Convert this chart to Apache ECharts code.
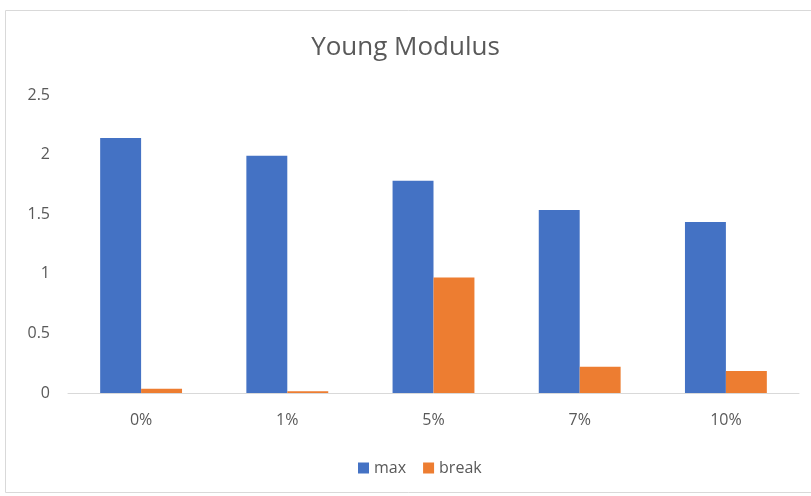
<!DOCTYPE html>
<html><head><meta charset="utf-8">
<script src="https://cdn.jsdelivr.net/npm/echarts@6/dist/echarts.min.js"></script>
<style>html,body{margin:0;padding:0;background:#fff}#c{width:811px;height:496px}</style>
</head><body><div id="c"></div>
<script>
const categories = ['0%', '1%', '5%', '7%', '10%'];
const maxValues = [2.14, 1.99, 1.78, 1.535, 1.435];
const breakValues = [0.035, 0.015, 0.97, 0.22, 0.185];
const yTicks = [0, 0.5, 1, 1.5, 2, 2.5];

const chart = echarts.init(document.getElementById('c'));
chart.setOption({
  animation: false,
  graphic: [{type:'rect', shape:{x:5.5,y:10.5,width:810,height:482}, style:{fill:'none', stroke:'#d9d9d9', lineWidth:1}}],
  title: {text:'Young Modulus', left:'center', top:30, textStyle:{fontFamily:'Open Sans', fontSize:26, fontWeight:'normal', color:'#595959'}},
  legend: {data:['max','break'], top:455, left:353, itemWidth:11, itemHeight:11, itemGap:17, icon:'rect',
    textStyle:{fontFamily:'Open Sans', fontSize:16, color:'#595959'}},
  grid: {left:68, right:12, top:95, bottom:103, containLabel:false},
  xAxis: {type:'category', data:categories, axisTick:{show:false},
    axisLine:{lineStyle:{color:'#d9d9d9'}},
    axisLabel:{fontFamily:'Open Sans', fontSize:16, color:'#595959', margin:19}},
  yAxis: {type:'value', min:yTicks[0], max:yTicks[yTicks.length-1], interval:0.5,
    splitLine:{show:false}, axisLine:{show:false}, axisTick:{show:false},
    axisLabel:{fontFamily:'Open Sans', fontSize:16, color:'#595959', margin:18,
      formatter: v => yTicks.includes(v) ? String(v) : ''}},
  series: [
    {name:'max', type:'bar', data:maxValues, barGap:'0%', barCategoryGap:'44%', itemStyle:{color:'#4472c4'}},
    {name:'break', type:'bar', data:breakValues, itemStyle:{color:'#ed7d31'}}
  ]
});
</script></body></html>
